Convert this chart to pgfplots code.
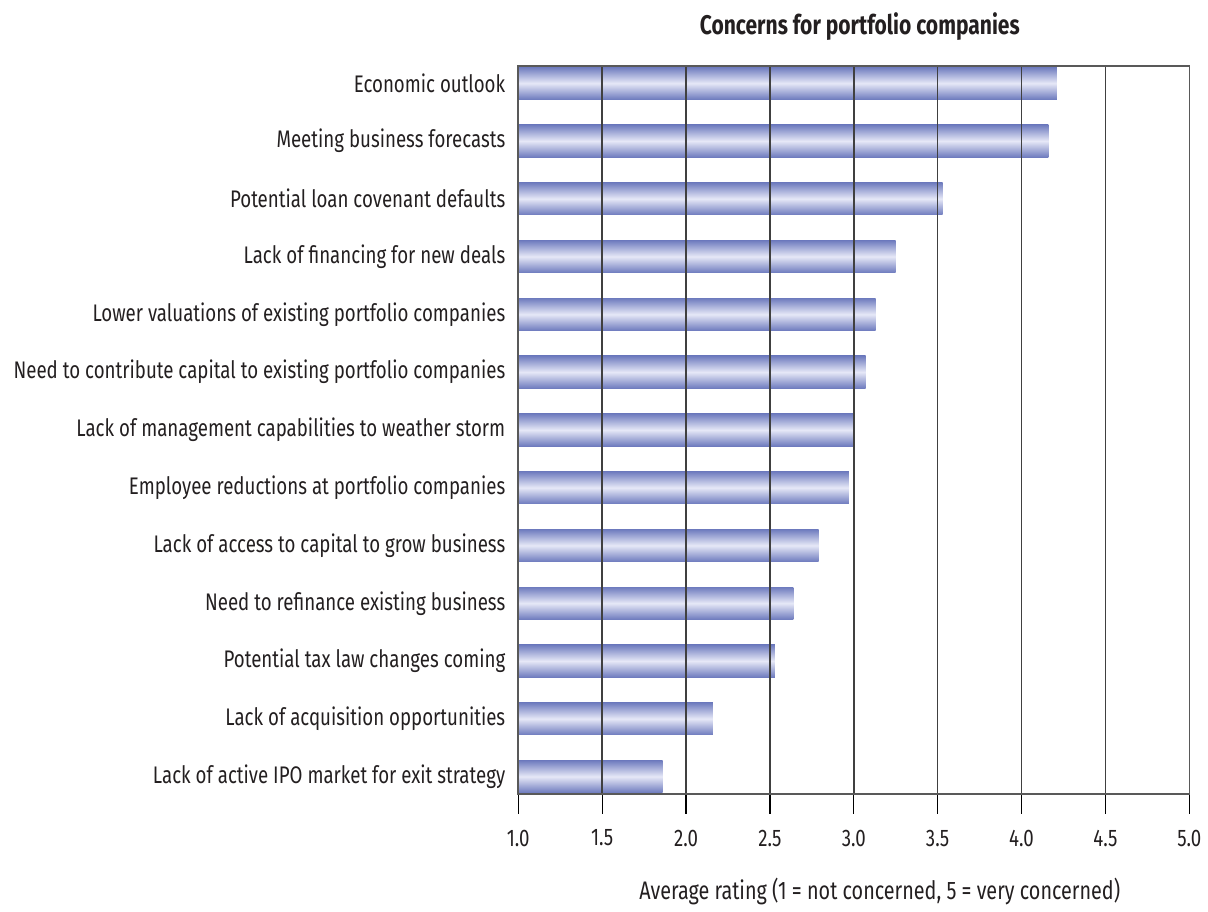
\documentclass[border=0pt]{standalone}
\usepackage{pgfplots}
\pgfplotsset{compat=1.18}
\usepackage{fontspec}
\setmainfont{Fira Sans}[FakeStretch=0.78]
\definecolor{barEdge}{HTML}{6E7BBE}
\definecolor{barMid}{HTML}{E6E8F7}
\definecolor{gridc}{HTML}{404040}
\definecolor{txt}{HTML}{231F20}
\pgfplotsset{shadedbar/.style={draw=none, bar shift=0pt, top color=barEdge, bottom color=barEdge, middle color=barMid}}
\begin{document}
\begin{tikzpicture}
\begin{axis}[
  xbar,
  scale only axis,
  width=336pt, height=364.5pt,
  xmin=1, xmax=5,
  ymin=-0.3, ymax=12.3,
  y dir=reverse,
  bar width=16.2pt,
  xtick={1,1.5,2,2.5,3,3.5,4,4.5,5},
  xticklabel style={/pgf/number format/fixed, /pgf/number format/fixed zerofill, /pgf/number format/precision=1, yshift=-4.5pt},
  /pgf/number format/assume math mode=true,
  ytick={0,...,12},
  yticklabels={Economic outlook, Meeting business forecasts, Potential loan covenant defaults, Lack of financing for new deals, Lower valuations of existing portfolio companies, Need to contribute capital to existing portfolio companies, Lack of management capabilities to weather storm, Employee reductions at portfolio companies, Lack of access to capital to grow business, Need to refinance existing business, Potential tax law changes coming, Lack of acquisition opportunities, Lack of active IPO market for exit strategy},
  yticklabel style={xshift=7pt},
  ytick style={draw=none},
  tick align=outside,
  major tick length=10pt,
  xtick pos=bottom,
  ytick pos=left,
  xtick style={black, line width=0.6pt},
  tick label style={font=\fontsize{12}{14}\selectfont, text=txt},
  xmajorgrids,
  grid style={gridc, line width=0.8pt},
  axis on top,
  axis line style={gray!70!black, line width=0.8pt},
  title={\bfseries Concerns for portfolio companies},
  title style={font=\fontsize{13.5}{16}\selectfont, text=txt, yshift=3pt, xshift=3pt},
  xlabel={Average rating (1 = not concerned, 5 = very concerned)},
  xlabel style={font=\fontsize{12.7}{15}\selectfont, text=txt, yshift=-9pt, xshift=13pt},
]
\addplot[shadedbar] coordinates {(4.21,0)};
\addplot[shadedbar] coordinates {(4.16,1)};
\addplot[shadedbar] coordinates {(3.53,2)};
\addplot[shadedbar] coordinates {(3.25,3)};
\addplot[shadedbar] coordinates {(3.13,4)};
\addplot[shadedbar] coordinates {(3.07,5)};
\addplot[shadedbar] coordinates {(3.00,6)};
\addplot[shadedbar] coordinates {(2.97,7)};
\addplot[shadedbar] coordinates {(2.79,8)};
\addplot[shadedbar] coordinates {(2.64,9)};
\addplot[shadedbar] coordinates {(2.53,10)};
\addplot[shadedbar] coordinates {(2.16,11)};
\addplot[shadedbar] coordinates {(1.86,12)};
\end{axis}
\path ([xshift=-259.5pt,yshift=-50.5pt]current axis.south west) rectangle ([xshift=8.5pt,yshift=33pt]current axis.north east);
\end{tikzpicture}
\end{document}
